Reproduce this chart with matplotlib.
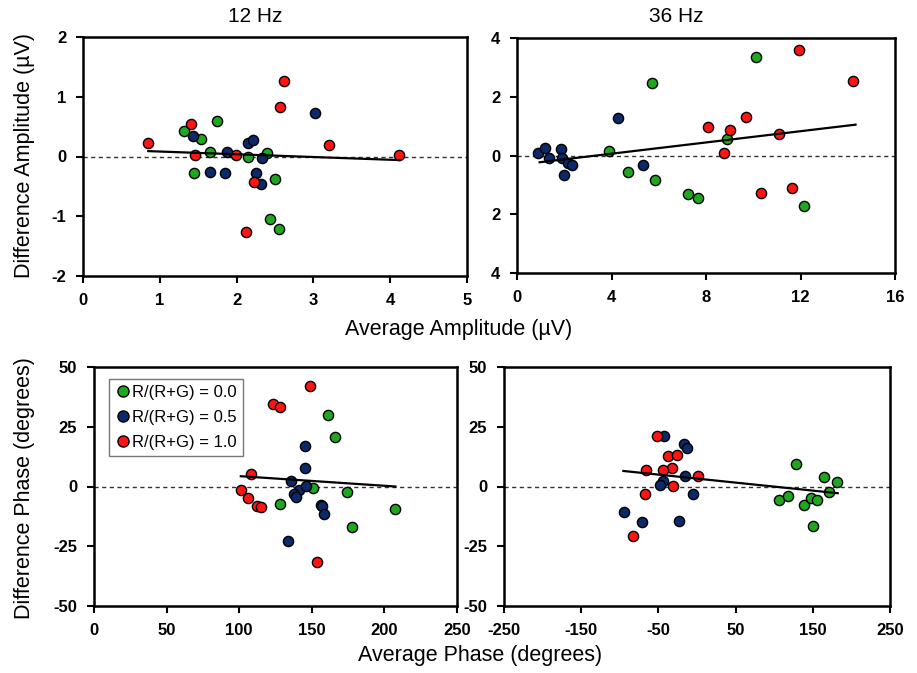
import matplotlib
matplotlib.use("Agg")
import matplotlib.pyplot as plt
from matplotlib.lines import Line2D

plt.rcParams["font.family"] = ["Liberation Sans", "DejaVu Sans"]

GREEN = "#1fa81f"
BLUE = "#0c2a6a"
RED = "#ff1414"

# --- 12 Hz amplitude (average, difference) ---
amp12_green_x = [1.32, 1.53, 1.75, 1.66, 1.44, 2.15, 2.39, 2.50, 2.44, 2.55]
amp12_green_y = [0.43, 0.29, 0.59, 0.08, -0.28, 0.00, 0.06, -0.37, -1.04, -1.22]
amp12_blue_x = [1.43, 2.15, 2.21, 1.88, 2.33, 3.02, 1.65, 1.85, 2.25, 2.32]
amp12_blue_y = [0.34, 0.23, 0.28, 0.07, -0.03, 0.72, -0.26, -0.28, -0.28, -0.46]
amp12_red_x = [0.85, 1.40, 1.46, 1.99, 2.62, 2.56, 3.20, 4.12, 2.12, 2.23]
amp12_red_y = [0.22, 0.54, 0.02, 0.02, 1.27, 0.83, 0.19, 0.02, -1.27, -0.42]
amp12_fit_x = [0.85, 4.12]
amp12_fit_y = [0.09, -0.06]

# --- 36 Hz amplitude ---
amp36_green_x = [3.91, 5.72, 4.68, 5.85, 7.22, 7.68, 8.90, 10.11, 12.15]
amp36_green_y = [0.15, 2.47, -0.55, -0.83, -1.31, -1.44, 0.56, 3.36, -1.73]
amp36_blue_x = [0.89, 1.17, 1.35, 1.87, 1.90, 2.15, 2.32, 2.01, 4.29, 5.33]
amp36_blue_y = [0.07, 0.26, -0.08, 0.22, -0.10, -0.25, -0.34, -0.67, 1.26, -0.32]
amp36_red_x = [8.10, 9.02, 8.78, 9.68, 11.08, 11.95, 14.22, 10.34, 11.65]
amp36_red_y = [0.97, 0.86, 0.08, 1.30, 0.74, 3.59, 2.55, -1.26, -1.12]
amp36_fit_x = [0.96, 14.33]
amp36_fit_y = [-0.23, 1.05]

# --- 12 Hz phase ---
ph12_green_x = [161.2, 165.8, 128.0, 150.5, 173.9, 178.0, 207.1]
ph12_green_y = [30.0, 20.6, -7.2, -0.7, -2.1, -16.9, -9.6]
ph12_blue_x = [145.4, 145.2, 136.0, 141.3, 145.9, 137.8, 139.0, 156.0, 157.1, 158.3, 133.3]
ph12_blue_y = [16.9, 7.6, 2.1, -1.3, 0.4, -3.1, -4.4, -7.6, -8.2, -11.4, -22.9]
ph12_red_x = [148.6, 123.4, 128.0, 108.0, 101.1, 106.2, 112.5, 115.0, 153.7]
ph12_red_y = [42.1, 34.4, 33.1, 5.3, -1.3, -4.7, -8.3, -8.7, -31.5]
ph12_fit_x = [101.1, 207.6]
ph12_fit_y = [4.3, 0.0]

# --- 36 Hz phase ---
ph36_green_x = [127.8, 106.6, 118.3, 138.6, 147.2, 155.9, 149.8, 164.9, 180.9, 171.4]
ph36_green_y = [9.4, -5.8, -3.8, -7.6, -4.9, -5.6, -16.5, 3.9, 1.8, -2.5]
ph36_blue_x = [-42.3, -16.8, -12.5, -16.0, -44.5, -47.5, -5.6, -94.6, -70.8, -22.9]
ph36_blue_y = [21.3, 17.8, 16.0, 4.2, 2.5, 0.7, -3.3, -10.8, -15.0, -14.4]
ph36_red_x = [-52.2, -37.1, -26.3, -32.8, -43.6, -66.1, 1.0, -30.7, -67.4, -83.3]
ph36_red_y = [21.0, 12.6, 13.3, 7.8, 6.7, 6.7, 4.2, 0.4, -3.3, -20.8]
ph36_fit_x = [-95.4, 182.2]
ph36_fit_y = [6.5, -2.8]

legend_labels = ["R/(R+G) = 0.0", "R/(R+G) = 0.5", "R/(R+G) = 1.0"]

W, H = 917, 673
fig = plt.figure(figsize=(W / 100, H / 100), dpi=100)


def px_axes(left, right, top, bottom):
    return fig.add_axes([left / W, 1 - bottom / H, (right - left) / W, (bottom - top) / H])


def style(ax, xlim, ylim, xticks, yticks, ylabels=None):
    ax.set_xlim(*xlim)
    ax.set_ylim(*ylim)
    ax.set_xticks(xticks)
    ax.set_yticks(yticks)
    ax.set_xticklabels([str(t) for t in xticks])
    ax.set_yticklabels(ylabels if ylabels else [str(t) for t in yticks])
    for s in ax.spines.values():
        s.set_linewidth(1.8)
    ax.tick_params(direction="out", length=5, width=1.5, pad=7)
    for lab in ax.get_xticklabels() + ax.get_yticklabels():
        lab.set_fontsize(12)
        lab.set_fontweight("bold")
    ax.axhline(0, color="#333333", lw=1.0, ls=(0, (3, 2.5)), zorder=1)


def scatter_group(ax, gx, gy, bx, by, rx, ry, fx, fy):
    kw = dict(s=54, edgecolors="black", linewidths=1.0, zorder=3)
    ax.scatter(gx, gy, c=GREEN, **kw)
    ax.scatter(bx, by, c=BLUE, **kw)
    ax.scatter(rx, ry, c=RED, **kw)
    ax.plot(fx, fy, color="black", lw=1.6, zorder=4)


ax1 = px_axes(83, 467, 37, 276)
style(ax1, (0, 5), (-2, 2), [0, 1, 2, 3, 4, 5], [-2, -1, 0, 1, 2])
scatter_group(ax1, amp12_green_x, amp12_green_y, amp12_blue_x, amp12_blue_y,
              amp12_red_x, amp12_red_y, amp12_fit_x, amp12_fit_y)

ax2 = px_axes(517, 895, 38, 273)
# the reference prints the negative ticks without a minus sign
style(ax2, (0, 16), (-4, 4), [0, 4, 8, 12, 16], [-4, -2, 0, 2, 4],
      ylabels=["4", "2", "0", "2", "4"])
scatter_group(ax2, amp36_green_x, amp36_green_y, amp36_blue_x, amp36_blue_y,
              amp36_red_x, amp36_red_y, amp36_fit_x, amp36_fit_y)

ax3 = px_axes(94, 457, 367, 606)
style(ax3, (0, 250), (-50, 50), [0, 50, 100, 150, 200, 250], [-50, -25, 0, 25, 50])
scatter_group(ax3, ph12_green_x, ph12_green_y, ph12_blue_x, ph12_blue_y,
              ph12_red_x, ph12_red_y, ph12_fit_x, ph12_fit_y)

ax4 = px_axes(504, 890, 367, 606)
style(ax4, (-250, 250), (-50, 50), [-250, -150, -50, 50, 150, 250], [-50, -25, 0, 25, 50])
scatter_group(ax4, ph36_green_x, ph36_green_y, ph36_blue_x, ph36_blue_y,
              ph36_red_x, ph36_red_y, ph36_fit_x, ph36_fit_y)

handles = [Line2D([], [], ls="none", marker="o", markersize=8, markerfacecolor=c,
                  markeredgecolor="black", markeredgewidth=1.0)
           for c in (GREEN, BLUE, RED)]
leg = ax3.legend(handles, legend_labels, loc="upper left", bbox_to_anchor=(0.041, 0.95),
                 borderaxespad=0, frameon=True, fancybox=False, fontsize=12,
                 handletextpad=0.05, handlelength=1.0, labelspacing=0.6,
                 borderpad=0.35)
leg.get_frame().set_edgecolor("#555555")
leg.get_frame().set_linewidth(1.0)


def ftext(x, y, s, **kw):
    fig.text(x / W, 1 - y / H, s, ha="center", va="center", **kw)


ftext(255, 17, "12 Hz", fontsize=15)
ftext(676, 17, "36 Hz", fontsize=15)
ftext(459, 330, "Average Amplitude (µV)", fontsize=15.5)
ftext(480, 655, "Average Phase (degrees)", fontsize=15.5)
ftext(25, 155, "Difference Amplitude (µV)", fontsize=15.5, rotation=90)
ftext(25, 488, "Difference Phase (degrees)", fontsize=15.5, rotation=90)

fig.savefig("out.png", dpi=100)
